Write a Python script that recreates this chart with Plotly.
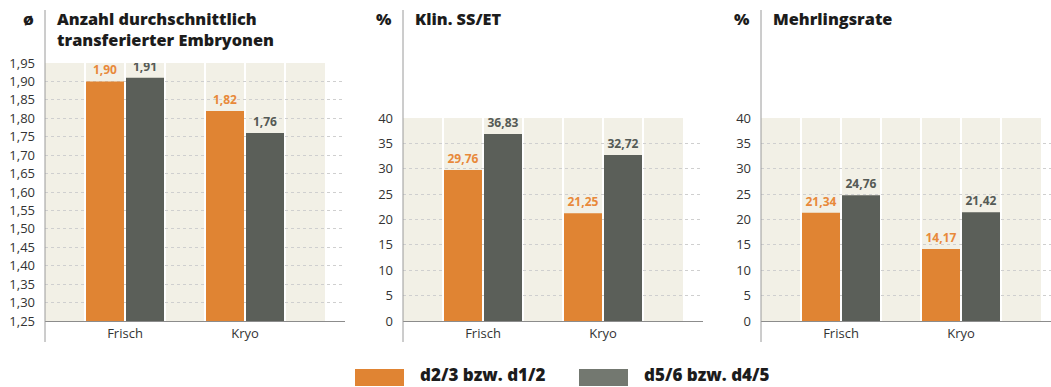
import plotly.graph_objects as go

# ---------------- data ----------------
categories = ["Frisch", "Kryo"]
series_names = ["d2/3 bzw. d1/2", "d5/6 bzw. d4/5"]

embryos_early = [1.90, 1.82]
embryos_late = [1.91, 1.76]
ss_early = [29.76, 21.25]
ss_late = [36.83, 32.72]
mehr_early = [21.34, 14.17]
mehr_late = [24.76, 21.42]

panel_titles = ["Anzahl durchschnittlich<br>transferierter Embryonen", "Klin. SS/ET", "Mehrlingsrate"]
panel_units = ["ø", "%", "%"]

y_ranges = [[1.25, 1.95], [0, 40], [0, 40]]
y_dticks = [0.05, 5, 5]
y_formats = [".2f", "d", "d"]

# ---------------- style ----------------
W, H = 1051, 387
ORANGE = "#E08433"
GRAY = "#5B5F59"
GRAY_LEG = "#737870"
BEIGE = "#F2F0E6"
LABEL_ORANGE = "#E8893A"
LABEL_GRAY = "#555A55"
TXT = "#1c1c1c"
FONT = "Open Sans"

def px(x):
    return x / W

def py(y):
    return 1 - y / H

# panel geometry in pixels: (left, right, top, bottom)
panels = [(45, 345, 63, 321), (403, 703, 118, 321), (761, 1051, 118, 321)]
unit_px = 120.0  # pixels per category step
beige_px = 280.0
band_px = 40.0

data_sets = [(embryos_early, embryos_late), (ss_early, ss_late), (mehr_early, mehr_late)]

fig = go.Figure()
shapes = []
annotations = []

for i, ((l, r, t, b), (early, late)) in enumerate(zip(panels, data_sets)):
    n = i + 1
    xa = "x" if n == 1 else f"x{n}"
    ya = "y" if n == 1 else f"y{n}"
    width = r - l
    for vals, color, lc, name in [(early, ORANGE, LABEL_ORANGE, series_names[0]),
                                  (late, GRAY, LABEL_GRAY, series_names[1])]:
        fig.add_trace(go.Bar(
            x=categories, y=vals, name=name, xaxis=xa, yaxis=ya,
            marker=dict(color=color, line=dict(width=0)),
            texttemplate="%{y:.2f}", textposition="outside",
            textfont=dict(family=FONT, size=12, color=lc, weight="bold"),
            constraintext="none", cliponaxis=True, showlegend=False,
            hoverinfo="skip",
        ))
    left = -80.0 / unit_px
    right = 1 + (width - 80.0 - unit_px) / unit_px
    xkey = "xaxis" if n == 1 else f"xaxis{n}"
    ykey = "yaxis" if n == 1 else f"yaxis{n}"
    fig.layout[xkey] = dict(
        domain=[px(l), px(r)], anchor=ya, type="category", automargin=False,
        range=[left, right], showgrid=False, zeroline=False,
        showline=True, linecolor="#8c8c8c", linewidth=1, ticks="",
        tickfont=dict(family=FONT, size=13, color="#333"), fixedrange=True,
    )
    fig.layout[ykey] = dict(
        domain=[py(b), py(t)], anchor=xa, range=y_ranges[i], automargin=False,
        tick0=y_ranges[i][0], dtick=y_dticks[i], tickformat=y_formats[i],
        showgrid=True, gridcolor="#cfcfcf", griddash="dot", gridwidth=1,
        zeroline=False, showline=False, ticks="", ticklabelstandoff=9,
        tickfont=dict(family=FONT, size=13, color="#333"), fixedrange=True,
    )
    # beige background
    shapes.append(dict(type="rect", xref=f"{xa} domain", yref=f"{ya} domain",
                       x0=0, x1=beige_px / width, y0=0, y1=1,
                       fillcolor=BEIGE, line=dict(width=0), layer="below"))
    for k in range(1, 7):
        xd = k * band_px / width
        shapes.append(dict(type="line", xref=f"{xa} domain", yref=f"{ya} domain",
                           x0=xd, x1=xd, y0=0, y1=1,
                           line=dict(color="white", width=2), layer="below"))
    # vertical axis line extending to title
    shapes.append(dict(type="line", xref="paper", yref="paper",
                       x0=px(l), x1=px(l), y0=py(10), y1=py(342),
                       line=dict(color="#9a9a9a", width=1)))
    # title + unit
    annotations.append(dict(xref="paper", yref="paper", x=px(l + 10), y=py(6),
                            xanchor="left", yanchor="top", align="left",
                            text=panel_titles[i], showarrow=False,
                            font=dict(family=FONT, size=16.3, color=TXT, weight=800)))
    annotations.append(dict(xref="paper", yref="paper", x=px(l - 9), y=py(6),
                            xanchor="right", yanchor="top", align="right",
                            text=panel_units[i], showarrow=False,
                            font=dict(family=FONT, size=16.3, color=TXT, weight=800)))

# custom legend
leg = [(355, ORANGE, series_names[0]), (579, GRAY_LEG, series_names[1])]
for x0, col, name in leg:
    shapes.append(dict(type="rect", xref="paper", yref="paper",
                       x0=px(x0), x1=px(x0 + 49), y0=py(386), y1=py(369),
                       fillcolor=col, line=dict(width=0)))
    annotations.append(dict(xref="paper", yref="paper", x=px(x0 + 64), y=py(387),
                            xanchor="left", yanchor="bottom", text=name, showarrow=False,
                            borderpad=0,
                            font=dict(family=FONT, size=17, color=TXT, weight=800)))

fig.update_layout(
    width=W, height=H, margin=dict(l=0, r=0, t=0, b=0, autoexpand=False),
    paper_bgcolor="white", plot_bgcolor="rgba(0,0,0,0)",
    barmode="group", bargap=1/3, bargroupgap=0.05,
    separators=", ", shapes=shapes, annotations=annotations,
    showlegend=False, font=dict(family=FONT),
)

fig.write_html("out.html", config={"displayModeBar": False})
